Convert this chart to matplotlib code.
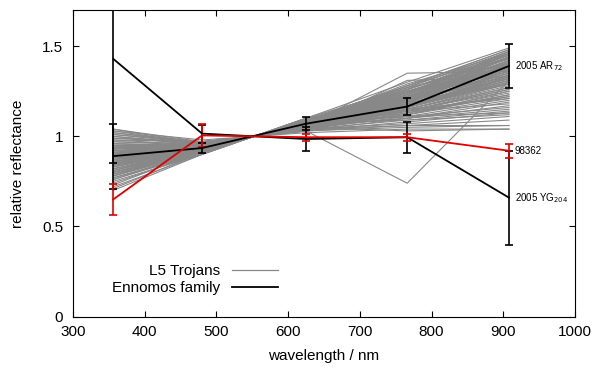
import numpy as np
import matplotlib
matplotlib.use('Agg')
import matplotlib.pyplot as plt
from matplotlib.lines import Line2D

plt.rcParams['font.family'] = ['Liberation Sans', 'DejaVu Sans']

# filter wavelengths (nm)
wl = [356, 480, 625, 766, 908]

# L5 Trojans, relative reflectance (u, g, r, i, z)
trojans = [
    (0.70, 0.90, 1.10, 1.27, 1.47), (0.71, 0.91, 1.09, 1.24, 1.44),
    (0.72, 0.90, 1.10, 1.30, 1.49), (0.73, 0.92, 1.08, 1.21, 1.40),
    (0.74, 0.91, 1.09, 1.26, 1.46), (0.75, 0.90, 1.10, 1.19, 1.36),
    (0.76, 0.92, 1.08, 1.23, 1.43), (0.77, 0.91, 1.09, 1.28, 1.45),
    (0.78, 0.93, 1.07, 1.17, 1.34), (0.79, 0.92, 1.08, 1.22, 1.41),
    (0.80, 0.91, 1.09, 1.25, 1.39), (0.81, 0.93, 1.07, 1.20, 1.44),
    (0.82, 0.92, 1.08, 1.16, 1.30), (0.83, 0.94, 1.06, 1.21, 1.38),
    (0.84, 0.93, 1.07, 1.24, 1.47), (0.84, 0.92, 1.08, 1.18, 1.32),
    (0.85, 0.94, 1.06, 1.14, 1.27), (0.86, 0.93, 1.07, 1.22, 1.42),
    (0.86, 0.92, 1.08, 1.27, 1.40), (0.87, 0.94, 1.06, 1.19, 1.35),
    (0.88, 0.93, 1.07, 1.16, 1.29), (0.88, 0.95, 1.05, 1.23, 1.46),
    (0.89, 0.94, 1.06, 1.20, 1.37), (0.90, 0.93, 1.07, 1.13, 1.24),
    (0.90, 0.94, 1.06, 1.25, 1.43), (0.91, 0.95, 1.05, 1.17, 1.33),
    (0.92, 0.94, 1.06, 1.21, 1.39), (0.92, 0.93, 1.07, 1.11, 1.20),
    (0.93, 0.95, 1.05, 1.18, 1.41), (0.93, 0.94, 1.06, 1.15, 1.28),
    (0.94, 0.96, 1.04, 1.22, 1.36), (0.94, 0.95, 1.05, 1.12, 1.25),
    (0.95, 0.94, 1.06, 1.19, 1.44), (0.95, 0.96, 1.04, 1.16, 1.31),
    (0.96, 0.95, 1.05, 1.10, 1.17), (0.96, 0.94, 1.06, 1.35, 1.36),
    (0.97, 0.96, 1.04, 1.14, 1.26), (0.97, 0.95, 1.05, 1.20, 1.38),
    (0.98, 0.97, 1.03, 1.08, 1.13), (0.98, 0.95, 1.05, 1.31, 1.33),
    (0.99, 0.96, 1.04, 1.12, 1.21), (0.99, 0.97, 1.03, 1.17, 1.34),
    (1.00, 0.96, 1.04, 1.07, 1.11), (1.00, 0.95, 1.05, 1.21, 1.40),
    (1.01, 0.97, 1.03, 1.10, 1.15), (1.01, 0.96, 1.04, 1.15, 1.29),
    (1.02, 0.97, 1.03, 1.05, 1.06), (1.02, 0.96, 1.04, 1.18, 1.32),
    (1.03, 0.98, 1.02, 1.04, 1.04), (1.03, 0.96, 1.04, 1.09, 1.14),
    (1.04, 0.97, 1.03, 1.06, 1.09), (1.04, 0.96, 1.04, 1.13, 1.22),
    (0.90, 0.97, 1.03, 0.74, 1.31), (0.85, 0.93, 1.07, 1.09, 1.12),
    (0.80, 0.92, 1.08, 1.11, 1.13), (0.76, 0.91, 1.09, 1.14, 1.18),
    (0.89, 0.95, 1.05, 1.03, 1.04), (0.93, 0.96, 1.04, 1.06, 1.06),
    (0.87, 0.93, 1.07, 1.28, 1.48), (0.91, 0.94, 1.06, 1.26, 1.45),
    (0.78, 0.91, 1.09, 1.20, 1.38), (0.79, 0.92, 1.08, 1.26, 1.44),
    (0.80, 0.93, 1.07, 1.18, 1.35), (0.81, 0.92, 1.08, 1.23, 1.46),
    (0.82, 0.93, 1.07, 1.20, 1.42), (0.83, 0.92, 1.08, 1.25, 1.37),
    (0.83, 0.93, 1.07, 1.17, 1.31), (0.84, 0.94, 1.06, 1.21, 1.40),
    (0.85, 0.93, 1.07, 1.26, 1.43), (0.85, 0.92, 1.08, 1.19, 1.34),
    (0.86, 0.94, 1.06, 1.16, 1.33), (0.86, 0.93, 1.07, 1.24, 1.45),
    (0.87, 0.92, 1.08, 1.21, 1.39), (0.87, 0.94, 1.06, 1.12, 1.23),
    (0.88, 0.93, 1.07, 1.25, 1.41), (0.88, 0.94, 1.06, 1.18, 1.31),
    (0.89, 0.93, 1.07, 1.22, 1.44), (0.89, 0.95, 1.05, 1.15, 1.27),
    (0.90, 0.94, 1.06, 1.19, 1.36), (0.90, 0.95, 1.05, 1.22, 1.40),
    (0.91, 0.94, 1.06, 1.16, 1.30), (0.91, 0.93, 1.07, 1.27, 1.47),
    (0.92, 0.95, 1.05, 1.14, 1.26), (0.92, 0.94, 1.06, 1.23, 1.42),
    (0.93, 0.95, 1.05, 1.20, 1.35), (0.93, 0.96, 1.04, 1.13, 1.23),
    (0.94, 0.95, 1.05, 1.17, 1.32), (0.94, 0.94, 1.06, 1.24, 1.39),
    (0.95, 0.95, 1.05, 1.14, 1.22), (0.95, 0.96, 1.04, 1.21, 1.37),
    (0.82, 0.91, 1.09, 1.28, 1.48), (0.84, 0.92, 1.08, 1.22, 1.36),
    (0.86, 0.92, 1.08, 1.18, 1.29), (0.88, 0.92, 1.08, 1.29, 1.46),
    (0.80, 0.92, 1.08, 1.21, 1.33), (0.78, 0.92, 1.08, 1.24, 1.39),
    (0.77, 0.90, 1.10, 1.22, 1.42), (0.79, 0.91, 1.09, 1.17, 1.30),
    (0.81, 0.93, 1.07, 1.14, 1.25), (0.90, 0.93, 1.07, 1.20, 1.32),
    (0.92, 0.95, 1.05, 1.18, 1.29), (0.87, 0.95, 1.05, 1.15, 1.21),
    (0.91, 0.96, 1.04, 1.11, 1.16), (0.84, 0.94, 1.06, 1.10, 1.19),
]

# Ennomos family members
ar72 = [0.89, 0.935, 1.07, 1.165, 1.39]
ar72_err = [0.18, 0.03, 0.035, 0.045, 0.12]
yg204 = [1.43, 1.015, 0.985, 0.995, 0.66]
yg204_err = [0.58, 0.05, 0.065, 0.085, 0.26]
e98362 = [0.65, 1.005, 0.995, 0.995, 0.92]
e98362_err = [0.085, 0.065, 0.02, 0.02, 0.04]

GRAY = '#888888'
RED = '#e00000'

fig = plt.figure(figsize=(5.97, 3.73), dpi=100)
ax = fig.add_axes([0.1223, 0.151, 0.8408, 0.822])

for row in trojans:
    ax.plot(wl, row, color=GRAY, lw=0.8)

ekw = dict(capsize=3, capthick=1.2, elinewidth=1.2, lw=1.3)
ax.errorbar(wl, yg204, yerr=yg204_err, color='black', **ekw)
ax.errorbar(wl, ar72, yerr=ar72_err, color='black', **ekw)
ax.errorbar(wl, e98362, yerr=e98362_err, color=RED, **ekw)

ax.text(916, ar72[-1], '2005 AR$_{72}$', fontsize=7, va='center')
ax.text(916, e98362[-1], '98362', fontsize=7, va='center')
ax.text(916, yg204[-1], '2005 YG$_{204}$', fontsize=7, va='center')

ax.set_xlim(300, 1000)
ax.set_ylim(0, 1.7)
ax.set_xticks(range(300, 1001, 100))
ax.set_yticks([0, 0.5, 1, 1.5])
ax.set_yticklabels(['0', '0.5', '1', '1.5'])
ax.tick_params(direction='in', top=True, right=True, length=4, labelsize=11)
ax.tick_params(axis='x', pad=6)
ax.tick_params(axis='y', pad=7)
ax.set_xlabel('wavelength / nm', fontsize=11, labelpad=7)
ax.set_ylabel('relative reflectance', fontsize=11, labelpad=12)

handles = [Line2D([], [], color=GRAY, lw=0.9), Line2D([], [], color='black', lw=1.3)]
ax.legend(handles, ['L5 Trojans', 'Ennomos family'], loc='lower left',
          bbox_to_anchor=(0.05, 0.025), frameon=False, fontsize=11,
          markerfirst=False, handlelength=3.0, labelspacing=0.2,
          handletextpad=0.8)

fig.savefig('out.png', dpi=100)
